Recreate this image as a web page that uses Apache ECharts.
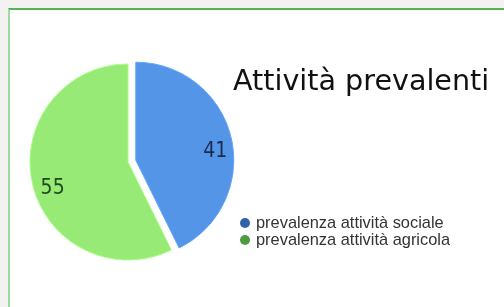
<!DOCTYPE html>
<html>
<head>
<meta charset="utf-8">
<script src="https://cdn.jsdelivr.net/npm/echarts@6/dist/echarts.min.js"></script>
<style>
html, body { margin: 0; padding: 0; background: #f3f2f0; }
#panel { position: absolute; left: 8px; top: 8px; width: 496px; height: 299px; background: #fff;
  border-top: 2px solid #57b257; border-left: 2px solid #9fd99f; box-sizing: border-box; }
#main { position: absolute; left: 0; top: 0; width: 504px; height: 307px; }
</style>
</head>
<body>
<div id="panel"></div>
<div id="main"></div>
<script>
var categories = ['prevalenza attività sociale', 'prevalenza attività agricola'];
var values = [41, 55];
var sliceColors = ['#5595e8', '#97ea76'];
var labelColors = ['#1b2a4e', '#1f4a1d'];
var legendColors = ['#2f63a8', '#4e9c3f'];

var dom = document.getElementById('main');
var myChart = echarts.init(dom);
window.onresize = function () {
	myChart.resize();
};

var center = [128, 162];
var R = 98;
var labelShift = [2, 9];

function pieData(withStyle) {
	return categories.map(function (name, i) {
		return {
			name: name,
			value: values[i],
			selected: i === 0,
			itemStyle: withStyle ? {
				color: sliceColors[i],
				borderColor: echarts.color.lift(sliceColors[i], -0.12),
				borderWidth: 1
			} : { color: 'rgba(0,0,0,0)', borderWidth: 0 },
			label: { color: labelColors[i], offset: labelShift },
			select: { label: { color: labelColors[i], offset: labelShift } }
		};
	});
}

var option = {
	backgroundColor: 'transparent',
	animation: false,
	title: {
		text: 'Attività prevalenti',
		left: 228,
		top: 63,
		textStyle: {
			fontFamily: 'DejaVu Sans',
			fontWeight: 'normal',
			fontSize: 28.6,
			color: '#111'
		}
	},
	legend: {
		orient: 'vertical',
		left: 235,
		top: 210,
		itemGap: 1,
		itemWidth: 10,
		itemHeight: 10,
		icon: 'circle',
		selectedMode: false,
		textStyle: {
			fontFamily: 'Liberation Sans',
			fontSize: 16.4,
			color: '#333',
			padding: [0, 0, 0, 1]
		},
		data: categories.map(function (name, i) {
			return { name: name, itemStyle: { color: legendColors[i], borderWidth: 0 } };
		})
	},
	series: [{
		type: 'pie',
		center: center,
		radius: [0, R],
		startAngle: 90,
		clockwise: true,
		selectedMode: 'single',
		selectedOffset: 8,
		label: { show: false },
		labelLine: { show: false },
		emphasis: { disabled: true },
		data: pieData(true)
	}, {
		type: 'pie',
		center: center,
		radius: [R * 0.56, R],
		startAngle: 90,
		clockwise: true,
		silent: true,
		selectedMode: 'single',
		selectedOffset: 8,
		label: {
			show: true,
			position: 'inside',
			formatter: '{c}',
			fontFamily: 'DejaVu Sans Condensed',
			fontSize: 21,
			offset: labelShift
		},
		labelLine: { show: false },
		data: pieData(false)
	}]
};

myChart.setOption(option, true);
</script>
</body>
</html>
